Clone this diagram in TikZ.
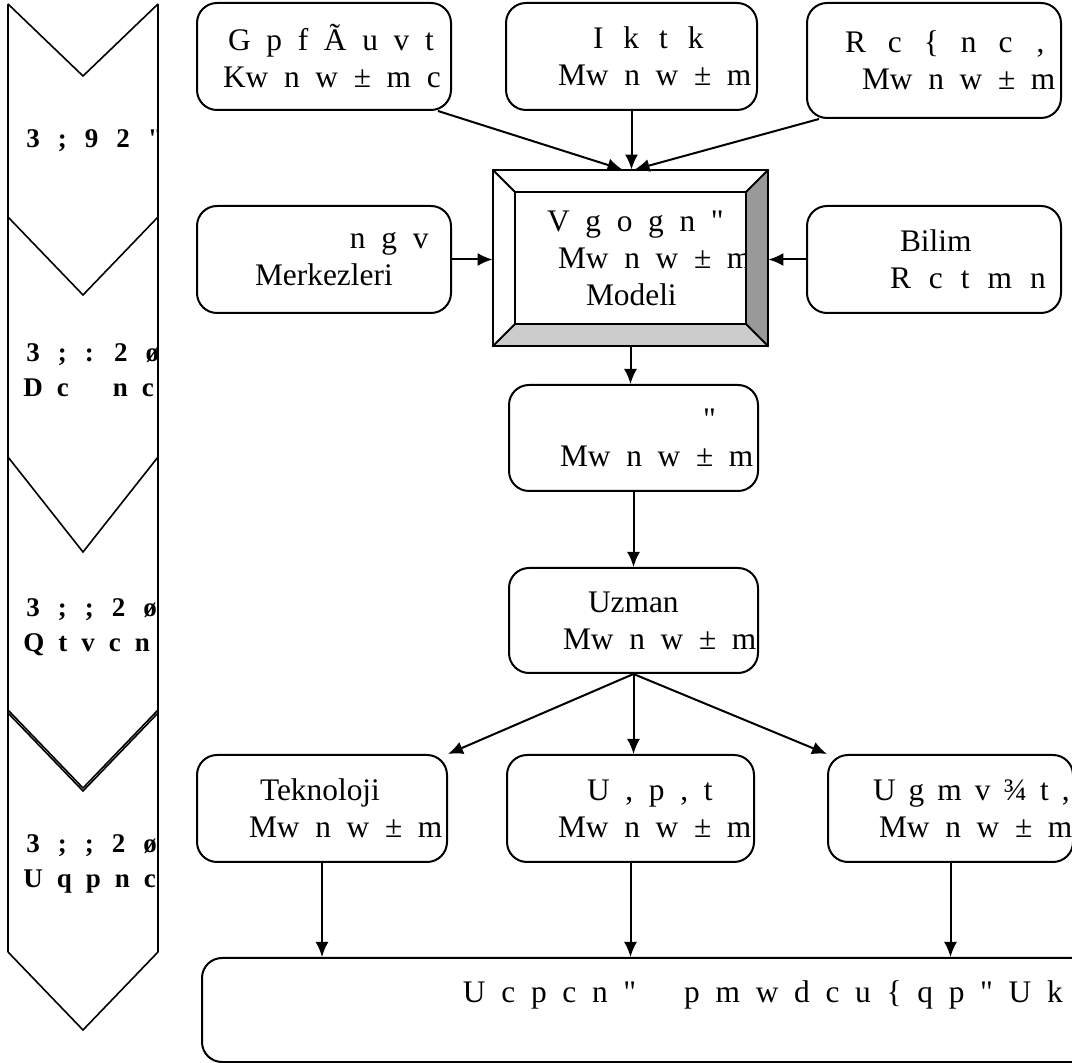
\documentclass[tikz,border=0pt]{standalone}
\usepackage{fontspec}
\setmainfont{Liberation Serif}
\usetikzlibrary{arrows.meta,shapes,positioning,calc}

% one line of box text, indented, never broken
\newcommand\boxline[2]{\hspace*{#1}\mbox{#2}}

\tikzset{
  boxfont/.style={font={\fontsize{15.7}{18.5}\selectfont\spaceskip=.5em\relax}},
  box/.style={draw, rounded corners=10pt, line width=1pt, inner xsep=0pt, inner ysep=0pt,
    align=flush left, minimum height=53.5pt, boxfont},
  sidetext/.style={align=flush left, inner sep=0pt,
    font={\bfseries\fontsize{13.5}{17.5}\selectfont\spaceskip=7pt\relax}},
  link/.style={->, line width=1pt},
}

\begin{document}
\begin{tikzpicture}[x=0.5pt, y=-0.5pt, >={Latex[length=7.5pt,width=6.5pt]}]
        \useasboundingbox (0,0) rectangle (1072,1063);

        % phase column
        \draw[line width=0.8pt] (8,4) -- (8,952) (158,4) -- (158,952);
        \foreach \t/\v in {4/76, 217/295, 457/552, 710/788, 952/1030}
            \draw[line width=0.8pt] (8,\t) -- (83,\v) -- (158,\t);
        \draw[line width=0.8pt] (8,713) -- (83,791) -- (158,713);

        \begin{scope}
            \clip (8,0) rectangle (158,1063);
            \node[sidetext, anchor=base west] (P1) at (26,148) {\spaceskip=9pt 3 ; 9 2 \textquotedbl};
            \node[sidetext, anchor=west] (P2) at (23,370) {\hspace*{1.5pt}{\spaceskip=9pt 3 ; : 2 ø}\\D c\hspace{22pt}n c};
            \node[sidetext, anchor=west] (P3) at (23,627) {\hspace*{1.5pt}{\spaceskip=9pt 3 ; ; 2 ø}\\Q t v c n};
            \node[sidetext, anchor=west] (P4) at (23,864) {\hspace*{1.5pt}{\spaceskip=9pt 3 ; ; 2 ø}\\U q p n c};
        \end{scope}

        % top row
        \node[box, text width=127pt] (T1) at (324,56.5)
            {\boxline{15.5pt}{G p f Ã u v t}\\\boxline{13pt}{Kw n w ± m c}};
        \node[box, text width=125.5pt] (T2) at (631.5,56.5)
            {\boxline{43.5pt}{\spaceskip=10pt I k t k}\\\boxline{26pt}{Mw n w ± m}};
        \node[box, text width=127pt, minimum height=57.5pt] (T3) at (934,60.5)
            {\boxline{19pt}{\spaceskip=11pt R c \{ n c\hspace{12pt},}\\\boxline{27.5pt}{Mw n w ± m}};

        % core model
        \node[inner sep=0pt, text width=137.5pt, minimum height=88pt, align=flush left, boxfont] (M0) at (630.5,258)
            {\boxline{27pt}{V g o g n \textquotedbl}\\\boxline{32.5pt}{Mw n w ± m}\\\boxline{46.5pt}{Modeli}};
        \fill[black!40] (M0.north east) -- (M0.south east) -- ++(-22,-22) -- ($(M0.north east)+(-22,22)$) -- cycle;
        \fill[black!20] (M0.south west) -- (M0.south east) -- ++(-22,-22) -- ($(M0.south west)+(22,-22)$) -- cycle;
        \draw[line width=1pt] (M0.north west) rectangle (M0.south east);
        \draw[line width=1pt] ($(M0.north west)+(22,22)$) rectangle ($(M0.south east)+(-22,-22)$);
        \draw[line width=1pt] (M0.north west) -- ++(22,22) (M0.north east) -- ++(-22,22)
            (M0.south west) -- ++(22,-22) (M0.south east) -- ++(-22,-22);

        \node[box, text width=127pt] (L1) at (324,259.5)
            {\boxline{76.5pt}{n g v}\\\boxline{29pt}{Merkezleri}};
        \node[box, text width=127pt] (R1) at (934,259.5)
            {\boxline{46.5pt}{Bilim}\\\boxline{41.5pt}{\spaceskip=9pt R c t m n}};

        % middle chain
        \node[box, text width=124.5pt, minimum height=53pt] (M1) at (633.5,438)
            {\boxline{97pt}{\textquotedbl}\\\boxline{25.5pt}{Mw n w ± m}};
        \node[box, text width=124.5pt, minimum height=52.5pt] (M2) at (633.5,620.5)
            {\boxline{39.5pt}{Uzman}\\\boxline{27pt}{Mw n w ± m}};

        % bottom row
        \node[box, text width=125pt] (D1) at (322,808.5)
            {\boxline{31.5pt}{Teknoloji}\\\boxline{26pt}{Mw n w ± m}};
        \node[box, text width=123.5pt] (D2) at (630.5,808.5)
            {\boxline{40pt}{U , p , t}\\\boxline{25.5pt}{Mw n w ± m}};
        \node[box, text width=122.5pt] (D3) at (950.5,808.5)
            {\boxline{22.5pt}{\spaceskip=6.5pt U g m v ¾ t ,}\\\boxline{25.5pt}{Mw n w ± m}};
        \node[box, text width=445pt, minimum height=52pt] (E1) at (647,1010)
            {\boxline{130.5pt}{U c p c n \textquotedbl\hspace{24pt}p m w d c u \{ q p \textquotedbl\ U k}\\~};

        \draw[link] ([xshift=-7pt]T1.south east) -- ([xshift=-4pt]M0.north);
        \draw[link] (T2.south) -- (T2.south |- M0.north);
        \draw[link] ([xshift=6.5pt]T3.south west) -- ([xshift=2pt]M0.north);
        \draw[link] (L1.east) -- (L1.east -| M0.west);
        \draw[link] (R1.west) -- (R1.west -| M0.east);
        \draw[link] (M0.south) -- (M0.south |- M1.north);
        \draw[link] (M1) -- (M2);
        \draw[link] (M2.south) -- (D1.north east);
        \draw[link] (M2.south) -- (M2.south |- D2.north);
        \draw[link] (M2.south) -- (D3.north west);
        \draw[link] (D1.south) -- (D1.south |- E1.north);
        \draw[link] (D2.south) -- (D2.south |- E1.north);
        \draw[link] (D3.south) -- (D3.south |- E1.north);
    \end{tikzpicture}
\end{document}
